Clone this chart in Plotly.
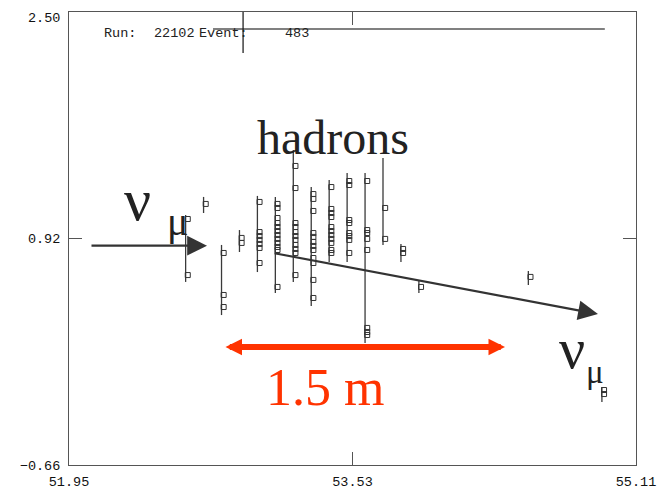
import plotly.graph_objects as go

# ---- axis ranges and tick labels ----
X_RANGE = [51.95, 55.11]
Y_RANGE = [-0.66, 2.50]
X_TICKS = [51.95, 53.53, 55.11]
X_TICK_TEXT = ["51.95", "53.53", "55.11"]
Y_TICKS = [-0.66, 0.92, 2.50]
Y_TICK_TEXT = ["\u22120.66", "0.92", "2.50"]

# ---- hit strips (vertical segments) ----
COL_X = [52.6, 52.7, 52.8, 52.9, 53.0, 53.1, 53.2, 53.3, 53.4, 53.5, 53.6, 53.7, 53.8, 53.9, 54.51, 54.92]
COL_LO = [0.617, 1.098, 0.386, 0.826, 0.686, 0.540, 0.617, 0.449, 0.756, 0.756, 0.191, 0.875, 0.756, 0.540, 0.596, -0.221]
COL_HI = [1.084, 1.210, 0.875, 0.979, 1.217, 1.210, 1.537, 1.279, 1.328, 1.377, 1.377, 1.482, 0.882, 0.631, 0.693, -0.116]

# ---- hit flags: column x and y of each flag ----
FLAG_COL = (
    [52.6] * 2 + [52.7] * 1 + [52.8] * 3 + [52.9] * 2 + [53.0] * 7 + [53.1] * 12 +
    [53.2] * 11 + [53.3] * 12 + [53.4] * 11 + [53.5] * 8 + [53.6] * 8 + [53.7] * 2 +
    [53.8] * 2 + [53.9] * 1 + [54.51] * 1 + [54.92] * 2
)
FLAG_Y = (
    [1.056, 0.665] +
    [1.161] +
    [0.819, 0.526, 0.442] +
    [0.924, 0.889] +
    [1.175, 0.965, 0.937, 0.910, 0.882, 0.854, 0.749] +
    [1.161, 1.133, 1.063, 1.028, 1.000, 0.972, 0.944, 0.917, 0.889, 0.861, 0.840, 0.582] +
    [1.426, 1.272, 1.028, 1.000, 0.965, 0.937, 0.910, 0.875, 0.847, 0.819, 0.665] +
    [1.230, 1.196, 1.112, 0.958, 0.931, 0.896, 0.868, 0.840, 0.784, 0.749, 0.631, 0.505] +
    [1.279, 1.126, 1.098, 1.070, 1.000, 0.972, 0.944, 0.917, 0.889, 0.840, 0.819] +
    [1.321, 1.293, 1.049, 1.028, 0.958, 0.937, 0.910, 0.819] +
    [1.321, 0.979, 0.958, 0.917, 0.840, 0.296, 0.268, 0.247] +
    [1.133, 0.917] +
    [0.847, 0.819] +
    [0.582] +
    [0.652] +
    [-0.137, -0.165]
)

# ---- tracks (start x, start y, end x, end y) ----
NU_IN = [52.067, 0.870, 52.719, 0.870]
NU_OUT = [53.087, 0.819, 54.898, 0.393]
SCALE_BAR = [52.814, 0.163, 54.380, 0.163]

FLAG_DX = 0.012
INK = "#333333"
RED = "#ff3300"

fig = go.Figure()

# strips
sx, sy = [], []
for x, lo, hi in zip(COL_X, COL_LO, COL_HI):
    sx += [x, x, None]
    sy += [lo, hi, None]
fig.add_trace(go.Scatter(x=sx, y=sy, mode="lines", line=dict(color="#3a3a3a", width=1.3),
                         hoverinfo="skip", showlegend=False))

# flags
fig.add_trace(go.Scatter(x=[c + FLAG_DX for c in FLAG_COL], y=FLAG_Y, mode="markers",
                         marker=dict(symbol="square-open", size=5, color=INK, line=dict(width=1, color=INK)),
                         hoverinfo="skip", showlegend=False))

# arrows
def arrow(seg, color, width, size, both=False):
    fig.add_annotation(x=seg[2], y=seg[3], ax=seg[0], ay=seg[1], xref="x", yref="y",
                       axref="x", ayref="y", text="", showarrow=True, arrowhead=2,
                       arrowsize=size, arrowwidth=width, arrowcolor=color,
                       startarrowhead=2, startarrowsize=size,
                       arrowside="end+start" if both else "end", standoff=0, startstandoff=0)

arrow(NU_IN, INK, 2.2, 1.8)
arrow(NU_OUT, INK, 2.2, 1.8)
arrow(SCALE_BAR, RED, 6, 0.55, both=True)

serif = "Liberation Serif, Times New Roman, serif"
def txt(s, x, y, size, color="#222222", font=serif, anchor="center", yanchor="middle", xshift=0, yshift=0):
    fig.add_annotation(text=s, x=x, y=y, xref="paper", yref="paper", showarrow=False,
                       xanchor=anchor, yanchor=yanchor, xshift=xshift, yshift=yshift,
                       font=dict(family=font, size=size, color=color))

txt("hadrons", 0.4656, 0.722, 48)
txt("1.5 m", 0.4515, 0.170, 52, color=RED)
txt("\u03bd", 0.120, 0.585, 60)
txt("\u03bc", 0.192, 0.538, 40)
txt("\u03bd", 0.887, 0.258, 58)
txt("\u03bc", 0.928, 0.206, 33)

mono = "Liberation Mono, Courier New, monospace"
txt("Run:", 0.058, 0.9535, 13.5, color="#222222", font=mono, anchor="left")
txt("22102", 0.146, 0.9535, 13.5, color="#222222", font=mono, anchor="left")
txt("Event:", 0.226, 0.9535, 13.5, color="#222222", font=mono, anchor="left")
txt("483", 0.377, 0.9535, 13.5, color="#222222", font=mono, anchor="left")

# top y tick label drawn just inside the page edge (would be clipped as a tick label)
txt(Y_TICK_TEXT[2], 0.0, 1.0, 13.5, color="#111111", font=mono, anchor="right", yanchor="top",
    xshift=-7, yshift=3)

# detector display lines
fig.add_shape(type="line", xref="paper", yref="paper", x0=0.254, x1=0.945, y0=0.9625, y1=0.9625,
              line=dict(color="#808080", width=2))
fig.add_shape(type="line", xref="paper", yref="paper", x0=0.307, x1=0.307, y0=1.0, y1=0.9095,
              line=dict(color="#111111", width=1.2))

axis_common = dict(showgrid=False, zeroline=False, showline=True, linecolor="#555555", linewidth=1,
                   mirror="ticks", ticks="inside", ticklen=13, tickcolor="#555555", automargin=False,
                   ticklabeloverflow="allow",
                   tickfont=dict(family=mono, size=13.5, color="#111111"))
fig.update_xaxes(range=X_RANGE, tickvals=X_TICKS, ticktext=X_TICK_TEXT, ticklabelstandoff=4, **axis_common)
fig.update_yaxes(range=Y_RANGE, tickvals=Y_TICKS, ticktext=Y_TICK_TEXT[:2] + [""],
                 ticklabelstandoff=5, **axis_common)

# page body has an 8px margin, so the figure is sized and offset to land the frame on the reference
fig.update_layout(width=664, height=484, margin=dict(l=61, r=36, t=4, b=27, autoexpand=False),
                  plot_bgcolor="white", paper_bgcolor="white", showlegend=False)

fig.write_html("out.html")
